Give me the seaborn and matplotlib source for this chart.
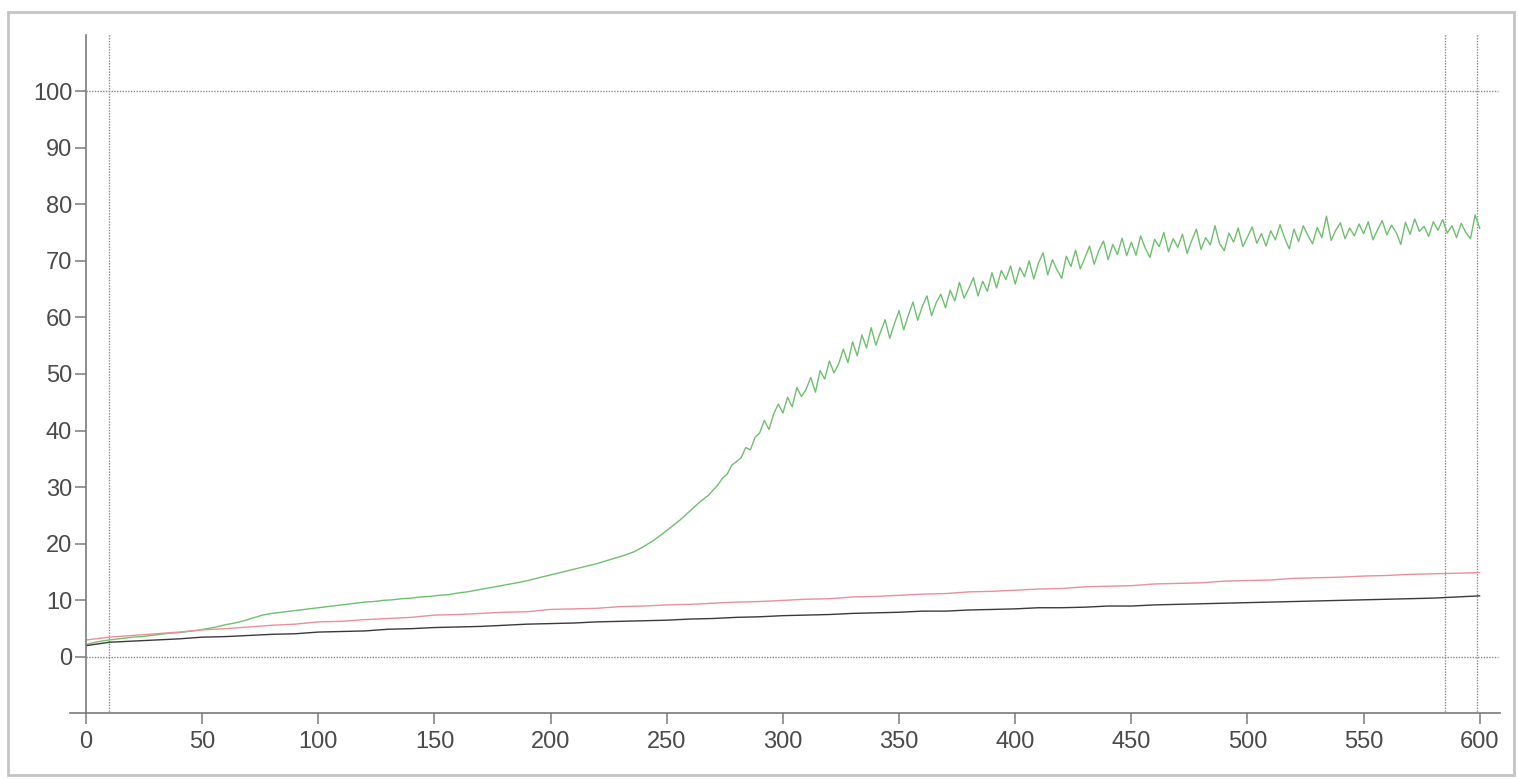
import numpy as np
import pandas as pd
import matplotlib
matplotlib.use("Agg")
import matplotlib.pyplot as plt
import seaborn as sns
from matplotlib.patches import Rectangle

# --- datos ---
# tramo suave (cada 4 s) y tramo ruidoso (cada 2 s)
x_verde = list(range(0, 269, 4)) + list(range(270, 601, 2))
y_verde = [
    # 0 - 268
    2.2, 2.6, 2.9, 3.1, 3.3, 3.5, 3.6, 3.8, 4.0, 4.2, 4.3, 4.5, 4.7, 5.0, 5.3, 5.7,
    6.0, 6.4, 6.9, 7.4, 7.7, 7.9, 8.1, 8.3, 8.5, 8.7, 8.9, 9.1, 9.3, 9.5, 9.7, 9.8,
    10.0, 10.1, 10.3, 10.4, 10.6, 10.7, 10.9, 11.0, 11.3, 11.5, 11.8, 12.1, 12.4, 12.7,
    13.0, 13.3, 13.7, 14.1, 14.5, 14.9, 15.3, 15.7, 16.1, 16.5, 17.0, 17.5, 18.0, 18.6,
    19.5, 20.5, 21.7, 23.0, 24.3, 25.8, 27.3, 28.6,
    # 270 - 600
    29.5, 30.4, 31.6, 32.3, 33.9, 34.5, 35.2, 37.0, 36.6, 38.8,
    39.6, 41.8, 40.2, 42.9, 44.7, 43.1, 45.9, 44.2, 47.6, 46.0,
    47.3, 49.4, 46.8, 50.6, 49.1, 52.3, 50.2, 51.8, 54.4, 52.0,
    55.7, 53.2, 56.9, 54.6, 58.2, 55.1, 57.4, 59.6, 56.3, 58.9,
    61.2, 57.8, 60.4, 62.7, 59.5, 61.9, 63.8, 60.3, 62.6, 64.1,
    61.7, 64.8, 62.9, 66.2, 63.4, 65.1, 67.0, 63.8, 66.4, 64.6,
    67.9, 65.2, 68.3, 66.7, 69.1, 65.9, 68.8, 67.2, 70.0, 66.8,
    69.6, 71.4, 67.5, 70.2, 68.4, 66.9, 70.8, 69.0, 71.9, 68.6,
    70.5, 72.6, 69.4, 71.8, 73.5, 70.2, 72.9, 71.1, 74.0, 70.9,
    73.3, 71.0, 74.4, 72.2, 70.6, 73.8, 72.5, 75.0, 71.6, 73.9,
    72.4, 74.7, 71.3, 73.6, 75.6, 72.0, 74.1, 72.8, 76.2, 73.0,
    71.8, 74.9, 73.3, 75.8, 72.5, 74.2, 76.0, 73.1, 74.8, 72.6,
    75.3, 73.7, 76.4, 74.0, 72.1, 75.6, 73.4, 76.2, 74.5, 73.0,
    75.9, 74.1, 77.9, 73.6, 75.4, 76.7, 73.9, 75.8, 74.4, 76.5,
    74.8, 76.9, 73.7, 75.5, 77.1, 74.6, 76.3, 75.0, 72.9, 76.8,
    74.7, 77.4, 75.2, 76.1, 74.3, 76.9, 75.4, 77.3, 74.9, 76.2,
    74.1, 76.6, 75.0, 73.9, 78.1, 75.7,
]

x_lineas = list(range(0, 601, 10))
y_rojo = [
    3.0, 3.5, 3.8, 4.1, 4.4, 4.8, 5.0, 5.3, 5.6, 5.8, 6.2, 6.3, 6.6, 6.8, 7.0, 7.4,
    7.5, 7.7, 7.9, 8.0, 8.4, 8.5, 8.6, 8.9, 9.0, 9.2, 9.3, 9.5, 9.7, 9.8, 10.0, 10.2,
    10.3, 10.6, 10.7, 10.9, 11.1, 11.2, 11.5, 11.6, 11.8, 12.0, 12.1, 12.4, 12.5, 12.6,
    12.9, 13.0, 13.1, 13.4, 13.5, 13.6, 13.9, 14.0, 14.1, 14.3, 14.4, 14.6, 14.7, 14.8, 14.9,
]
y_negro = [
    2.0, 2.6, 2.8, 3.0, 3.2, 3.5, 3.6, 3.8, 4.0, 4.1, 4.4, 4.5, 4.6, 4.9, 5.0, 5.2,
    5.3, 5.4, 5.6, 5.8, 5.9, 6.0, 6.2, 6.3, 6.4, 6.5, 6.7, 6.8, 7.0, 7.1, 7.3, 7.4,
    7.5, 7.7, 7.8, 7.9, 8.1, 8.1, 8.3, 8.4, 8.5, 8.7, 8.7, 8.8, 9.0, 9.0, 9.2, 9.3,
    9.4, 9.5, 9.6, 9.7, 9.8, 9.9, 10.0, 10.1, 10.2, 10.3, 10.4, 10.6, 10.8,
]

lineas_ref_x = [10, 585, 599]
lineas_ref_y = [0, 100]

df = pd.concat([
    pd.DataFrame({"t": x_verde, "valor": y_verde, "serie": "verde"}),
    pd.DataFrame({"t": x_lineas, "valor": y_rojo, "serie": "rojo"}),
    pd.DataFrame({"t": x_lineas, "valor": y_negro, "serie": "negro"}),
])

sns.set_style("white")
plt.rcParams['font.family'] = ['Liberation Sans', 'DejaVu Sans']

W, H = 1518, 779
fig = plt.figure(figsize=(W / 100, H / 100), dpi=100)
ax = fig.add_axes([70 / W, (H - 713) / H, 1430 / W, (713 - 35) / H])

# marco exterior
fig.patches.append(Rectangle((8 / W, 4 / H), 1506 / W, 763 / H, transform=fig.transFigure,
                             fill=False, edgecolor="#c4c4c4", linewidth=2))

gris = "#8a8a8a"
for y in lineas_ref_y:
    ax.hlines(y, 0, 608, colors=gris, linestyles=(0, (1, 1)), linewidth=1)
for x in lineas_ref_x:
    ax.vlines(x, -10, 111, colors=gris, linestyles=(0, (1, 1)), linewidth=1)

paleta = {"verde": "#6fbf6f", "rojo": "#e8909c", "negro": "#3a3a3a"}
sns.lineplot(data=df, x="t", y="valor", hue="serie", palette=paleta,
             linewidth=1.0, legend=False, ax=ax, sort=False)

ax.set_xlim(-6.9, 608.7)
ax.set_ylim(-9.9, 109.9)
ax.spines['left'].set_position(('data', 0))
ax.spines['top'].set_visible(False)
ax.spines['right'].set_visible(False)
for s in ['left', 'bottom']:
    ax.spines[s].set_color("#7a7a7a")
    ax.spines[s].set_linewidth(1.2)

ax.set_xticks(range(0, 601, 50))
ax.set_yticks(range(0, 101, 10))
ax.tick_params(axis='both', direction='out', length=8, width=1.1, color="#7a7a7a",
               labelsize=17, labelcolor="#4a4a4a", pad=2)
ax.tick_params(axis='x', pad=5)
ax.tick_params(left=True, bottom=True)
ax.set_xlabel("")
ax.set_ylabel("")

fig.savefig("out.png", dpi=100)
